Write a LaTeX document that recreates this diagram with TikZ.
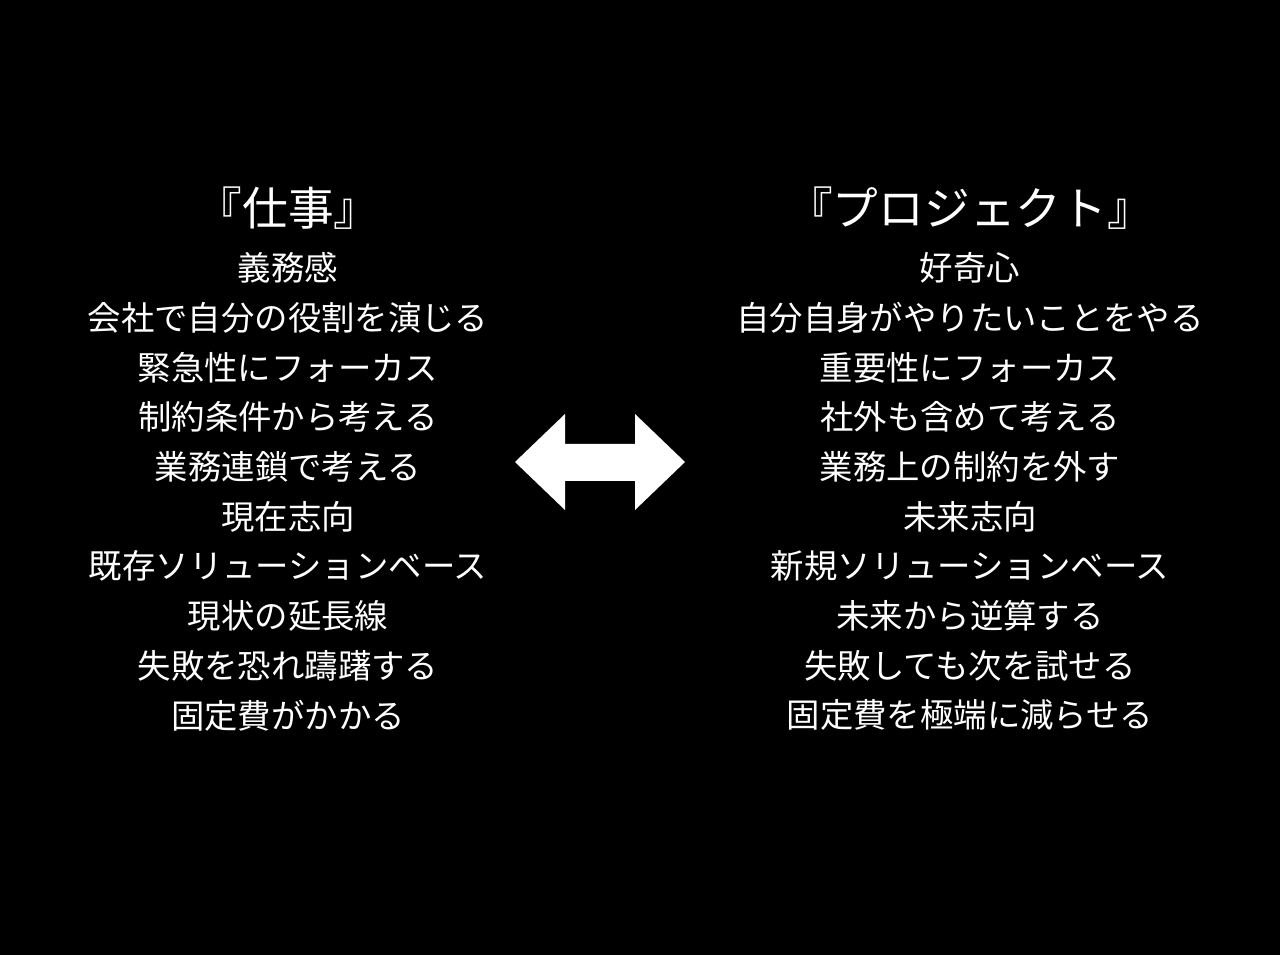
\documentclass[tikz,border=0pt]{standalone}
\usepackage{fontspec}
\setmainfont{Noto Sans CJK JP}
\begin{document}
\begin{tikzpicture}[x=0.02cm,y=-0.02cm,
    item/.style={text=white,inner sep=0pt,font=\fontsize{19}{19}\selectfont},
    head/.style={text=white,inner sep=0pt,font=\fontsize{26}{26}\selectfont}]
  % background
  \fill[black] (0,0) rectangle (1280,955);
  \useasboundingbox (0,0) rectangle (1280,955);
  % headings
  \node[head] (work) at (288,208) {『仕事』};
  \node[head] (proj) at (970,208) {『プロジェクト』};
  % left column
  \foreach \t [count=\i] in {義務感,会社で自分の役割を演じる,緊急性にフォーカス,制約条件から考える,業務連鎖で考える,現在志向,既存ソリューションベース,現状の延長線,失敗を恐れ躊躇する,固定費がかかる}
    \node[item] (w\i) at (288,{268+49.7*(\i-1)}) {\t};
  % right column
  \foreach \t [count=\i] in {好奇心,自分自身がやりたいことをやる,重要性にフォーカス,社外も含めて考える,業務上の制約を外す,未来志向,新規ソリューションベース,未来から逆算する,失敗しても次を試せる,固定費を極端に減らせる}
    \node[item] (p\i) at (970,{268+49.7*(\i-1)}) {\t};
  % double arrow
  \coordinate (L) at (515,462);
  \coordinate (R) at (685,462);
  \fill[white] (L) -- (565,414) -- (565,444) -- (635,444) -- (635,414) -- (R)
    -- (635,510) -- (635,481) -- (565,481) -- (565,510) -- cycle;
\end{tikzpicture}
\end{document}
